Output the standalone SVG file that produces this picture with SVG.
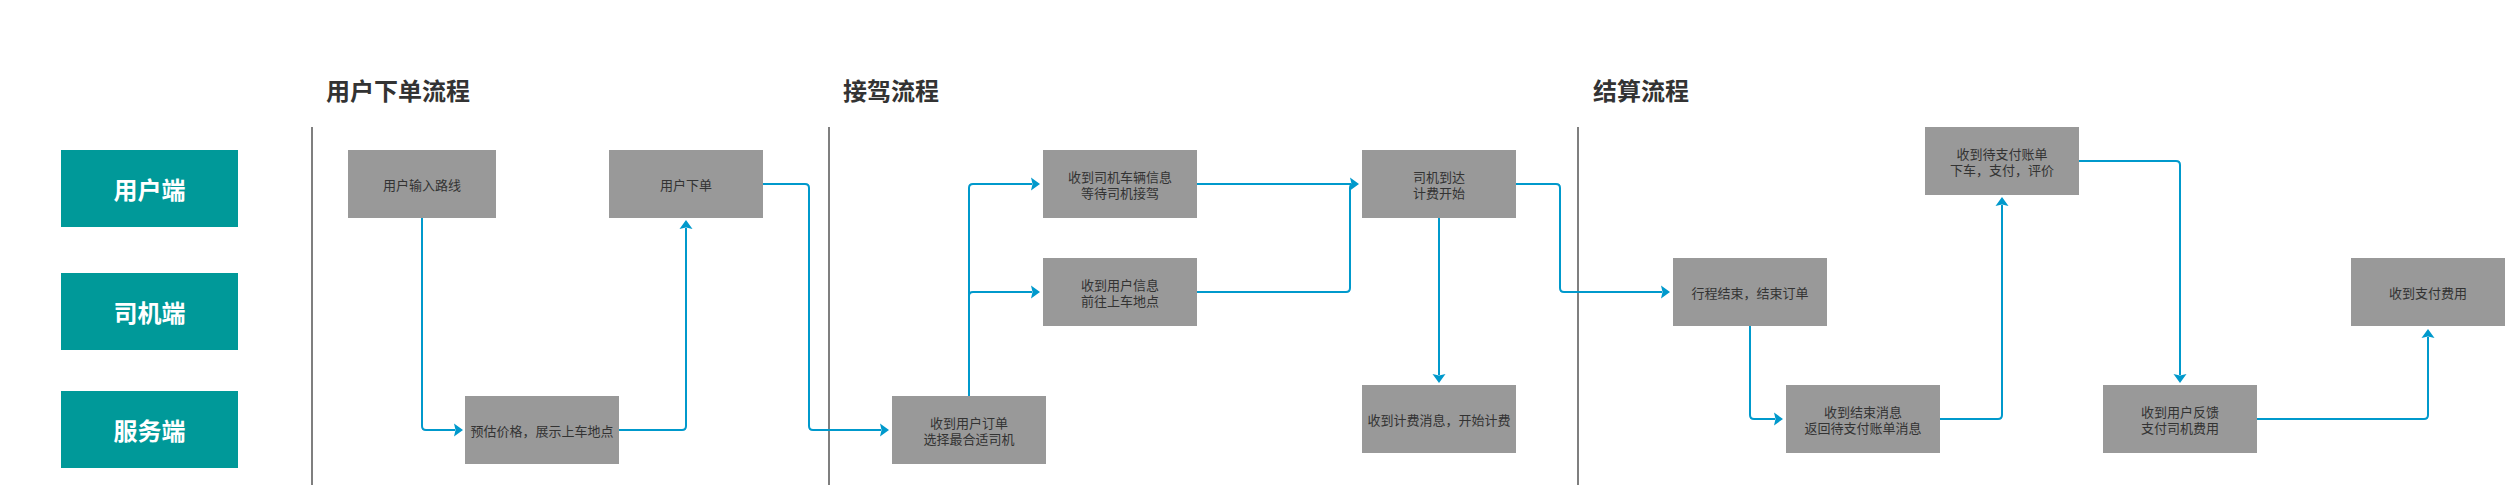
<svg xmlns="http://www.w3.org/2000/svg" width="2505" height="485" viewBox="0 0 2505 485">
<style>
.lane{fill:#009999}
.lane-t{fill:#ffffff;font-family:"Noto Sans CJK SC","Noto Sans",sans-serif;font-size:24px;font-weight:bold;text-anchor:middle;dominant-baseline:central}
.title{fill:#333333;font-family:"Noto Sans CJK SC","Noto Sans",sans-serif;font-size:24px;font-weight:bold}
.box{fill:#999999}
.t{fill:#333333;font-family:"Noto Sans CJK SC","Noto Sans",sans-serif;font-size:13px;text-anchor:middle;dominant-baseline:central}
.div{stroke:#7f7f7f;stroke-width:2}
.c{fill:none;stroke:#0099cc;stroke-width:2}
</style>
<defs>
<marker id="arr" markerUnits="userSpaceOnUse" markerWidth="10" markerHeight="14" viewBox="0 0 10 14" refX="1" refY="7" orient="auto" overflow="visible">
<path d="M0,0.5 L9,7 L0,13.5 L1.5,7 z" fill="#0099cc"/>
</marker>
</defs>
<rect width="2505" height="485" fill="#ffffff"/>
<g id="titles">
<text class="title" x="326" y="100">用户下单流程</text>
<text class="title" x="843" y="100">接驾流程</text>
<text class="title" x="1593" y="100">结算流程</text>
</g>
<g id="dividers">
<line class="div" x1="312" y1="127" x2="312" y2="485"/>
<line class="div" x1="829" y1="127" x2="829" y2="485"/>
<line class="div" x1="1578" y1="127" x2="1578" y2="485"/>
</g>
<g id="lane-user"><rect class="lane" x="61" y="150" width="177" height="77"/><text class="lane-t" x="149.5" y="188.5">用户端</text></g>
<g id="lane-driver"><rect class="lane" x="61" y="273" width="177" height="77"/><text class="lane-t" x="149.5" y="311.5">司机端</text></g>
<g id="lane-server"><rect class="lane" x="61" y="391" width="177" height="77"/><text class="lane-t" x="149.5" y="429.5">服务端</text></g>
<g id="connectors">
<path class="c" marker-end="url(#arr)" d="M422,218 V426 Q422,430 426,430 H455"/>
<path class="c" marker-end="url(#arr)" d="M619,430 H682 Q686,430 686,426 V228"/>
<path class="c" marker-end="url(#arr)" d="M763,184 H805 Q809,184 809,188 V426 Q809,430 813,430 H881"/>
<path class="c" marker-end="url(#arr)" d="M969,396 V188 Q969,184 973,184 H1032"/>
<path class="c" marker-end="url(#arr)" d="M969,296 Q969,292 973,292 H1032"/>
<path class="c" marker-end="url(#arr)" d="M1197,184 H1351"/>
<path class="c" d="M1197,292 H1346 Q1350,292 1350,288 V188 Q1350,184 1354,184"/>
<path class="c" marker-end="url(#arr)" d="M1439,218 V375"/>
<path class="c" marker-end="url(#arr)" d="M1516,184 H1556 Q1560,184 1560,188 V288 Q1560,292 1564,292 H1662"/>
<path class="c" marker-end="url(#arr)" d="M1750,326 V415 Q1750,419 1754,419 H1775"/>
<path class="c" marker-end="url(#arr)" d="M1940,419 H1998 Q2002,419 2002,415 V205"/>
<path class="c" marker-end="url(#arr)" d="M2079,161 H2176 Q2180,161 2180,165 V375"/>
<path class="c" marker-end="url(#arr)" d="M2257,419 H2424 Q2428,419 2428,415 V337"/>
</g>
<g id="n-input"><rect class="box" x="348" y="150" width="148" height="68"/><text class="t" x="422" y="184">用户输入路线</text></g>
<g id="n-order"><rect class="box" x="609" y="150" width="154" height="68"/><text class="t" x="686" y="184">用户下单</text></g>
<g id="n-estimate"><rect class="box" x="465" y="396" width="154" height="68"/><text class="t" x="542" y="430">预估价格，展示上车地点</text></g>
<g id="n-receive-order"><rect class="box" x="892" y="396" width="154" height="68"/><text class="t" x="969" y="422">收到用户订单</text><text class="t" x="969" y="438">选择最合适司机</text></g>
<g id="n-car-info"><rect class="box" x="1043" y="150" width="154" height="68"/><text class="t" x="1120" y="176">收到司机车辆信息</text><text class="t" x="1120" y="192">等待司机接驾</text></g>
<g id="n-user-info"><rect class="box" x="1043" y="258" width="154" height="68"/><text class="t" x="1120" y="284">收到用户信息</text><text class="t" x="1120" y="300">前往上车地点</text></g>
<g id="n-arrive"><rect class="box" x="1362" y="150" width="154" height="68"/><text class="t" x="1439" y="176">司机到达</text><text class="t" x="1439" y="192">计费开始</text></g>
<g id="n-billing"><rect class="box" x="1362" y="385" width="154" height="68"/><text class="t" x="1439" y="419">收到计费消息，开始计费</text></g>
<g id="n-end-trip"><rect class="box" x="1673" y="258" width="154" height="68"/><text class="t" x="1750" y="292">行程结束，结束订单</text></g>
<g id="n-end-msg"><rect class="box" x="1786" y="385" width="154" height="68"/><text class="t" x="1863" y="411">收到结束消息</text><text class="t" x="1863" y="427">返回待支付账单消息</text></g>
<g id="n-bill"><rect class="box" x="1925" y="127" width="154" height="68"/><text class="t" x="2002" y="153">收到待支付账单</text><text class="t" x="2002" y="169">下车，支付，评价</text></g>
<g id="n-feedback"><rect class="box" x="2103" y="385" width="154" height="68"/><text class="t" x="2180" y="411">收到用户反馈</text><text class="t" x="2180" y="427">支付司机费用</text></g>
<g id="n-paid"><rect class="box" x="2351" y="258" width="154" height="68"/><text class="t" x="2428" y="292">收到支付费用</text></g>
</svg>
